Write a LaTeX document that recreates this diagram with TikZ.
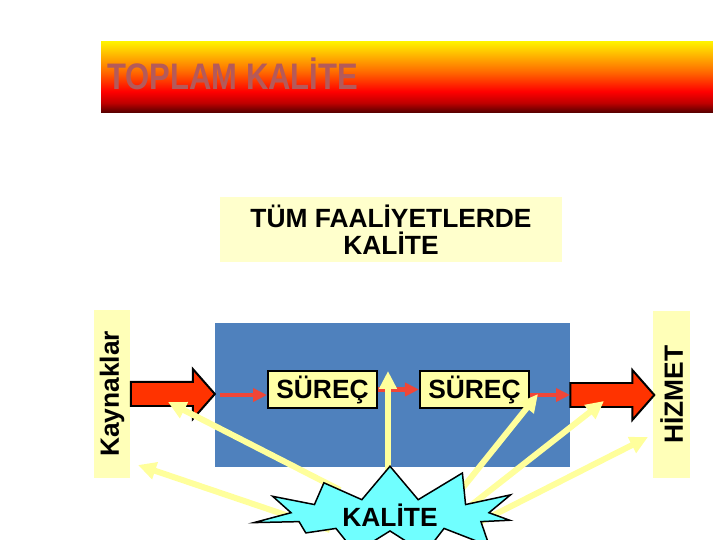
\documentclass[tikz,border=0pt]{standalone}
\usepackage{fontspec}
\setmainfont{Liberation Sans}
\usepackage{graphicx}
\usepackage{tikz}
\usetikzlibrary{arrows.meta, shapes.symbols, positioning}

\definecolor{paleyellow}{HTML}{FFFFCC}
\definecolor{bandyellow}{HTML}{FFFFB8}
\definecolor{boxyellow}{HTML}{FFFFA6}
\definecolor{rayyellow}{HTML}{FFFF9C}
\definecolor{stageblue}{HTML}{4F81BD}
\definecolor{blockred}{HTML}{FF3300}
\definecolor{flowred}{RGB}{240,70,55}
\definecolor{burstcyan}{HTML}{70FFFF}
\definecolor{titlered}{HTML}{B45A5A}
\definecolor{bannerdark}{HTML}{500000}

% top-to-bottom fade of the title banner (inner 25bp..75bp is used)
\pgfdeclareverticalshading{bannerfade}{100bp}{
    color(0bp)=(bannerdark); color(25bp)=(bannerdark);
    color(32bp)=(red!75!black); color(40bp)=(red);
    color(54bp)=(orange!85!red); color(75bp)=(yellow!92!orange);
    color(100bp)=(yellow!92!orange)}

\tikzset {
    banner/.style = {
        shade,
        shading = bannerfade,
        minimum width = 12.24cm,
        minimum height = 1.44cm
    },
    titletext/.style = {
        anchor = base west,
        inner sep = 0pt,
        text = titlered,
        font = \fontsize{21}{24}\selectfont\bfseries
    },
    notebox/.style = {
        fill = paleyellow,
        align = center,
        minimum width = 6.84cm,
        minimum height = 1.3cm,
        font = \fontsize{15}{15.5}\selectfont\bfseries
    },
    band/.style = {
        fill = bandyellow,
        rotate = 90,
        minimum width = 3.36cm,  % along the text
        minimum height = 0.74cm,
        inner sep = 0pt,
        font = \fontsize{15}{17}\selectfont\bfseries
    },
    stage/.style = {
        fill = stageblue,
        minimum width = 7.1cm,
        minimum height = 2.88cm
    },
    process/.style = {
        draw,
        line width = 0.04cm,
        fill = boxyellow,
        minimum width = 2.18cm,
        minimum height = 0.76cm,
        inner sep = 0pt,
        font = \fontsize{15}{17}\selectfont\bfseries
    },
    burst/.style = {
        starburst,
        starburst points = 11,
        starburst point height = 0.8cm,
        random starburst = 37,
        draw,
        line width = 0.03cm,
        fill = burstcyan,
        minimum width = 5.6cm,
        minimum height = 1.95cm,
        inner sep = 0pt,
        font = \fontsize{15}{17}\selectfont\bfseries
    },
    ray/.style = {
        draw = rayyellow,
        line width = 0.12cm,
        -{Triangle[width=0.34cm, length=0.36cm]}
    },
    flow/.style = {
        draw = flowred,
        line width = 0.09cm,
        -{Triangle[width=0.26cm, length=0.28cm]}
    },
    blockarrow/.pic = {
        \path [draw, line width=0.04cm, fill=blockred]
            (0,-12) -- (62,-12) -- (62,-25) -- (84,0) -- (62,25) -- (62,12) -- (0,12) -- cycle;
    }
}

\begin{document}
\begin{tikzpicture}[x=0.02cm, y=-0.02cm]
        \useasboundingbox (0,0) rectangle (720,540);
        \clip (0,0) rectangle (720,540);

        % Title banner
        \node [banner] at (407,77)                          (banner)    {};
        \node [titletext] at (107,90)                       (title)     {\scalebox{0.84}[1]{TOPLAM KALİTE}};

        % Upper note
        \node [notebox] at (391,229.5)                      (note)      {TÜM FAALİYETLERDE\\KALİTE};

        % Middle row : sources, stage, two processes, service
        \node [band] at (112,394)                           (sources)   {Kaynaklar};
        \node [stage] at (392.5,395)                        (stage)     {};
        \node [process] at (322.5,389.5)                    (proc1)     {SÜREÇ};
        \node [process, right=0.82cm of proc1]              (proc2)     {SÜREÇ};
        \node [band] at (671.5,394.5)                       (service)   {HİZMET};

        % Block arrows in and out of the stage
        \pic at (sources.south)                             {blockarrow};
        \pic at (stage.east)                                {blockarrow};

        \coordinate (inlet)     at (220,395);
        \coordinate (outlet)    at (570,395);

        \path [flow]    (inlet)                 --  (inlet -| proc1.west);
        \path [flow]    (proc1)                 --  (proc2);
        \path [flow]    (proc2.east |- outlet)  --  (outlet);

        % Rays out of the burst : start and end points
        \coordinate (spark)     at (390,515);
        \coordinate (start1)    at (340,490);
        \coordinate (start2)    at (330,530);
        \coordinate (start4)    at (445,510);
        \coordinate (start5)    at (460,514);
        \coordinate (start6)    at (480,522);
        \coordinate (tip1)      at (168,402);
        \coordinate (tip2)      at (138,465);
        \coordinate (tip3)      at (388,371);
        \coordinate (tip4)      at (538,394);
        \coordinate (tip5)      at (604,401);
        \coordinate (tip6)      at (648,437);

        \path [ray]     (start1)            --  (tip1);
        \path [ray]     (start2)            --  (tip2);
        \path [ray]     (tip3 |- spark)     --  (tip3);
        \path [ray]     (start4)            --  (tip4);
        \path [ray]     (start5)            --  (tip5);
        \path [ray]     (start6)            --  (tip6);

        \node [burst] at (spark)                            (kalite)    {KALİTE};
\end{tikzpicture}
\end{document}
